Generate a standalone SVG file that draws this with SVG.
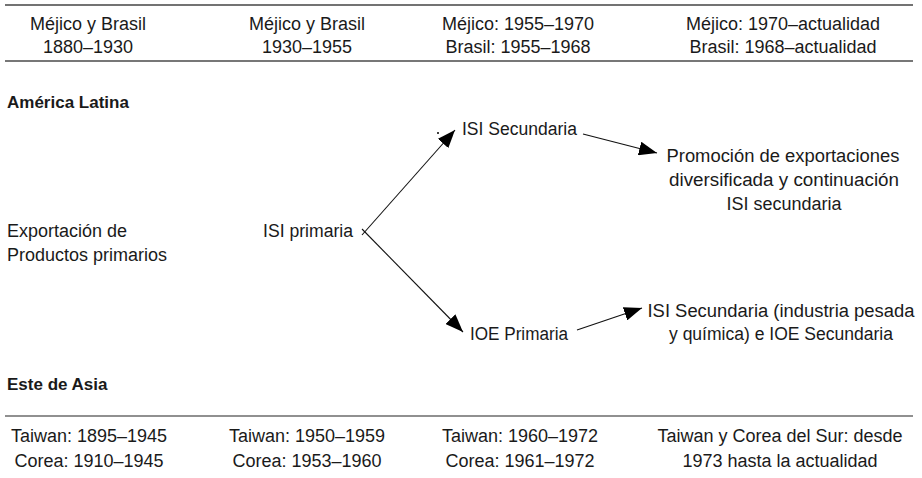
<svg xmlns="http://www.w3.org/2000/svg" width="922" height="478" viewBox="0 0 922 478">
<style>
text{font-family:"Liberation Sans",Arial,sans-serif;font-size:18px;fill:#1a1a1a}
.c{text-anchor:middle}
.b{font-weight:bold;font-size:17px}
.conn line{stroke:#111;stroke-width:1.1;fill:none}
</style>
<defs>
<marker id="ah" markerUnits="userSpaceOnUse" markerWidth="18" markerHeight="14" refX="18" refY="7" orient="auto" viewBox="0 0 18 14">
<path d="M0,0 L18,7 L0,14 z" fill="#000"/>
</marker>
</defs>
<rect width="922" height="478" fill="#fff"/>
<g id="rules">
<line x1="5" y1="5" x2="913" y2="5" stroke="#444" stroke-width="1.6"/>
<line x1="5" y1="61" x2="913" y2="61" stroke="#777" stroke-width="2"/>
<line x1="5" y1="416" x2="913" y2="416" stroke="#222" stroke-width="1.2"/>
</g>
<g id="header">
<text class="c" x="88" y="30">Méjico y Brasil</text>
<text class="c" x="88" y="53">1880–1930</text>
<text class="c" x="307" y="30">Méjico y Brasil</text>
<text class="c" x="307" y="53">1930–1955</text>
<text class="c" x="518" y="30">Méjico: 1955–1970</text>
<text class="c" x="518" y="53">Brasil: 1955–1968</text>
<text class="c" x="783" y="30">Méjico: 1970–actualidad</text>
<text class="c" x="783" y="53">Brasil: 1968–actualidad</text>
</g>
<g id="region-al"><text class="b" x="7" y="108">América Latina</text></g>
<g id="region-ea"><text class="b" x="7" y="390">Este de Asia</text></g>
<g id="n-export">
<text x="7" y="237">Exportación de</text>
<text x="7" y="261">Productos primarios</text>
</g>
<g id="n-isi-primaria"><text x="263" y="237" textLength="90" lengthAdjust="spacingAndGlyphs">ISI primaria</text></g>
<g id="n-isi-secundaria"><circle cx="438" cy="133" r="1" fill="#000"/><text x="462" y="135" textLength="115" lengthAdjust="spacingAndGlyphs">ISI Secundaria</text></g>
<g id="n-promocion">
<text class="c" x="783" y="162" textLength="233" lengthAdjust="spacingAndGlyphs">Promoción de exportaciones</text>
<text class="c" x="784" y="186" textLength="230" lengthAdjust="spacingAndGlyphs">diversificada y continuación</text>
<text class="c" x="784" y="210" textLength="115" lengthAdjust="spacingAndGlyphs">ISI secundaria</text>
</g>
<g id="n-ioe-primaria"><text x="470" y="340" textLength="98" lengthAdjust="spacingAndGlyphs">IOE Primaria</text></g>
<g id="n-isi-pesada">
<text class="c" x="781" y="317" textLength="267" lengthAdjust="spacingAndGlyphs">ISI Secundaria (industria pesada</text>
<text class="c" x="781" y="340" textLength="224" lengthAdjust="spacingAndGlyphs">y química) e IOE Secundaria</text>
</g>
<g id="footer">
<text class="c" x="89" y="442">Taiwan: 1895–1945</text>
<text class="c" x="89" y="467">Corea: 1910–1945</text>
<text class="c" x="307" y="442">Taiwan: 1950–1959</text>
<text class="c" x="307" y="467">Corea: 1953–1960</text>
<text class="c" x="520" y="442">Taiwan: 1960–1972</text>
<text class="c" x="520" y="467">Corea: 1961–1972</text>
<text class="c" x="780" y="442">Taiwan y Corea del Sur: desde</text>
<text class="c" x="780" y="467">1973 hasta la actualidad</text>
</g>
<g id="connectors" class="conn">
<line x1="362" y1="235" x2="455" y2="130" marker-end="url(#ah)"/>
<line x1="362" y1="229" x2="463" y2="332" marker-end="url(#ah)"/>
<line x1="583" y1="134" x2="657" y2="153" marker-end="url(#ah)"/>
<line x1="577" y1="330" x2="642" y2="308" marker-end="url(#ah)"/>
</g>
</svg>
